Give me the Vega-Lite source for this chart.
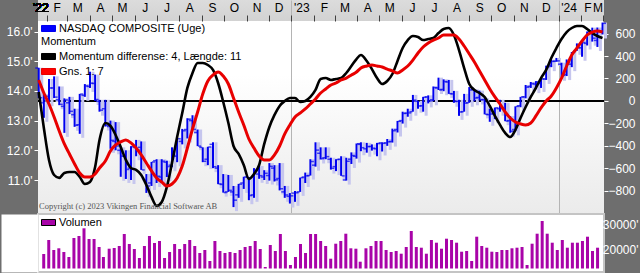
{
"$schema": "https://vega.github.io/schema/vega-lite/v6.json",
"background": "#6e6e6e",
"padding": 0,
"spacing": 0,
"config": {
 "font": "Liberation Sans",
 "view": {"stroke": null},
 "axis": {"domain": false, "grid": false, "labelFont": "Liberation Sans", "labelFontSize": 12, "title": null, "labelOverlap": false, "tickCount": 200},
 "legend": {"labelFont": "Liberation Sans", "labelFontSize": 11, "labelColor": "#000", "titleFont": "Liberation Sans", "titleFontSize": 11, "titleFontWeight": "normal", "titleColor": "#000", "padding": 0, "rowPadding": 2, "labelOffset": 3, "labelLimit": 400, "titlePadding": 2, "symbolType": "M-1,-0.43H1V0.43H-1Z", "symbolSize": 196}
},
"resolve": {"scale": {"x": "independent", "y": "independent", "color": "independent", "fill": "independent", "stroke": "independent"}, "legend": {"color": "independent", "fill": "independent", "stroke": "independent"}},
"data": {"values": [
{"d":"2022-01-21","o":14770,"h":14780,"l":13760,"c":13769,"v":18000,"m":80,"a":187},
{"d":"2022-01-28","o":13600,"h":13890,"l":13094,"c":13770,"v":23600,"m":-240,"a":71},
{"d":"2022-02-04","o":13820,"h":14400,"l":13620,"c":14098,"v":19600,"m":-524,"a":-27},
{"d":"2022-02-11","o":14100,"h":14490,"l":13760,"c":13791,"v":20280,"m":-658,"a":-142},
{"d":"2022-02-18","o":13700,"h":14150,"l":13520,"c":13548,"v":18800,"m":-684,"a":-267},
{"d":"2022-02-25","o":13480,"h":13750,"l":12587,"c":13694,"v":16800,"m":-640,"a":-382},
{"d":"2022-03-04","o":13600,"h":13800,"l":13220,"c":13313,"v":24400,"m":-631,"a":-471},
{"d":"2022-03-11","o":13200,"h":13400,"l":12790,"c":12843,"v":25200,"m":-631,"a":-560},
{"d":"2022-03-18","o":12860,"h":13900,"l":12555,"c":13894,"v":28280,"m":-676,"a":-640},
{"d":"2022-03-25","o":13850,"h":14230,"l":13800,"c":14169,"v":24000,"m":-738,"a":-676},
{"d":"2022-04-01","o":14150,"h":14646,"l":14100,"c":14261,"v":24000,"m":-720,"a":-676},
{"d":"2022-04-08","o":14250,"h":14550,"l":13660,"c":13711,"v":20800,"m":-587,"a":-649},
{"d":"2022-04-14","o":13650,"h":13700,"l":13300,"c":13351,"v":16800,"m":-347,"a":-596},
{"d":"2022-04-22","o":13400,"h":13700,"l":12800,"c":12839,"v":20120,"m":-196,"a":-533},
{"d":"2022-04-29","o":12800,"h":13000,"l":12050,"c":12335,"v":20400,"m":-222,"a":-444},
{"d":"2022-05-06","o":12300,"h":12950,"l":12000,"c":12145,"v":21200,"m":-302,"a":-391},
{"d":"2022-05-13","o":12000,"h":12100,"l":11108,"c":11805,"v":26000,"m":-409,"a":-364},
{"d":"2022-05-20","o":11800,"h":12000,"l":11035,"c":11354,"v":22000,"m":-524,"a":-347},
{"d":"2022-05-27","o":11400,"h":12140,"l":11000,"c":12131,"v":20000,"m":-596,"a":-373},
{"d":"2022-06-03","o":12100,"h":12350,"l":11800,"c":12013,"v":16400,"m":-613,"a":-418},
{"d":"2022-06-10","o":12100,"h":12300,"l":11340,"c":11340,"v":21200,"m":-658,"a":-480},
{"d":"2022-06-17","o":11000,"h":11200,"l":10565,"c":10798,"v":25200,"m":-747,"a":-551},
{"d":"2022-06-24","o":10900,"h":11610,"l":10800,"c":11608,"v":22400,"m":-853,"a":-622},
{"d":"2022-07-01","o":11650,"h":11700,"l":10900,"c":11128,"v":23200,"m":-933,"a":-684},
{"d":"2022-07-08","o":11100,"h":11700,"l":10900,"c":11635,"v":16400,"m":-898,"a":-720},
{"d":"2022-07-15","o":11600,"h":11650,"l":11100,"c":11452,"v":18800,"m":-764,"a":-756},
{"d":"2022-07-22","o":11500,"h":12100,"l":11430,"c":11834,"v":22000,"m":-551,"a":-738},
{"d":"2022-07-29","o":11800,"h":12400,"l":11600,"c":12391,"v":20000,"m":-320,"a":-684},
{"d":"2022-08-05","o":12300,"h":12720,"l":12200,"c":12657,"v":22000,"m":-107,"a":-578},
{"d":"2022-08-12","o":12700,"h":13080,"l":12400,"c":13047,"v":23600,"m":116,"a":-418},
{"d":"2022-08-19","o":13000,"h":13181,"l":12700,"c":12705,"v":21200,"m":249,"a":-249},
{"d":"2022-08-26","o":12600,"h":12700,"l":12140,"c":12141,"v":18400,"m":338,"a":-98},
{"d":"2022-09-02","o":12100,"h":12100,"l":11600,"c":11631,"v":19600,"m":338,"a":62},
{"d":"2022-09-09","o":11700,"h":12120,"l":11500,"c":12112,"v":15200,"m":320,"a":178},
{"d":"2022-09-16","o":12200,"h":12270,"l":11400,"c":11448,"v":23200,"m":276,"a":231},
{"d":"2022-09-23","o":11400,"h":11500,"l":10860,"c":10868,"v":19200,"m":160,"a":258},
{"d":"2022-09-30","o":10850,"h":11200,"l":10575,"c":10576,"v":18400,"m":-9,"a":222},
{"d":"2022-10-07","o":10600,"h":11170,"l":10600,"c":10652,"v":18800,"m":-196,"a":151},
{"d":"2022-10-14","o":10600,"h":10800,"l":10088,"c":10321,"v":18400,"m":-400,"a":27},
{"d":"2022-10-21","o":10500,"h":10870,"l":10400,"c":10860,"v":19600,"m":-471,"a":-98},
{"d":"2022-10-28","o":10900,"h":11110,"l":10700,"c":11102,"v":20800,"m":-569,"a":-213},
{"d":"2022-11-04","o":11100,"h":11100,"l":10320,"c":10475,"v":21200,"m":-693,"a":-338},
{"d":"2022-11-11","o":10500,"h":11400,"l":10400,"c":11323,"v":23200,"m":-649,"a":-418},
{"d":"2022-11-18","o":11200,"h":11470,"l":11040,"c":11146,"v":20000,"m":-569,"a":-489},
{"d":"2022-11-25","o":11100,"h":11330,"l":11000,"c":11226,"v":12800,"m":-382,"a":-524},
{"d":"2022-12-02","o":11150,"h":11570,"l":10980,"c":11461,"v":21600,"m":-231,"a":-524},
{"d":"2022-12-09","o":11400,"h":11500,"l":10950,"c":11005,"v":19200,"m":-124,"a":-480},
{"d":"2022-12-16","o":11050,"h":11570,"l":10650,"c":10705,"v":26000,"m":-44,"a":-400},
{"d":"2022-12-23","o":10600,"h":10800,"l":10400,"c":10497,"v":19200,"m":0,"a":-293},
{"d":"2022-12-30","o":10450,"h":10560,"l":10207,"c":10466,"v":13600,"m":27,"a":-213},
{"d":"2023-01-06","o":10560,"h":10630,"l":10265,"c":10569,"v":16800,"m":27,"a":-142},
{"d":"2023-01-13","o":10600,"h":11080,"l":10600,"c":11079,"v":22000,"m":-9,"a":-107},
{"d":"2023-01-20","o":11100,"h":11250,"l":10900,"c":11140,"v":18400,"m":0,"a":-71},
{"d":"2023-01-27","o":11150,"h":11700,"l":11150,"c":11622,"v":26000,"m":36,"a":-27},
{"d":"2023-02-03","o":11500,"h":12270,"l":11450,"c":12007,"v":26000,"m":98,"a":18},
{"d":"2023-02-10","o":11900,"h":12100,"l":11690,"c":11718,"v":23200,"m":196,"a":71},
{"d":"2023-02-17","o":11750,"h":12100,"l":11700,"c":11787,"v":21200,"m":204,"a":107},
{"d":"2023-02-24","o":11700,"h":11750,"l":11350,"c":11395,"v":16120,"m":187,"a":142},
{"d":"2023-03-03","o":11450,"h":11700,"l":11300,"c":11689,"v":22120,"m":196,"a":160},
{"d":"2023-03-10","o":11700,"h":11800,"l":11140,"c":11139,"v":23200,"m":204,"a":187},
{"d":"2023-03-17","o":11000,"h":11750,"l":10980,"c":11631,"v":26120,"m":249,"a":204},
{"d":"2023-03-24","o":11700,"h":11930,"l":11540,"c":11824,"v":20280,"m":311,"a":231},
{"d":"2023-03-31","o":11800,"h":12230,"l":11720,"c":12222,"v":20120,"m":373,"a":258},
{"d":"2023-04-06","o":12200,"h":12270,"l":11970,"c":12088,"v":14920,"m":409,"a":293},
{"d":"2023-04-14","o":12050,"h":12250,"l":11920,"c":12124,"v":20280,"m":356,"a":311},
{"d":"2023-04-21","o":12130,"h":12200,"l":11990,"c":12073,"v":21200,"m":284,"a":320},
{"d":"2023-04-28","o":12050,"h":12250,"l":11800,"c":12227,"v":23200,"m":204,"a":311},
{"d":"2023-05-05","o":12250,"h":12270,"l":11960,"c":12235,"v":23200,"m":151,"a":302},
{"d":"2023-05-12","o":12250,"h":12380,"l":12150,"c":12285,"v":19600,"m":178,"a":284},
{"d":"2023-05-19","o":12300,"h":12730,"l":12260,"c":12658,"v":18800,"m":240,"a":267},
{"d":"2023-05-26","o":12700,"h":12990,"l":12600,"c":12976,"v":19200,"m":356,"a":249},
{"d":"2023-06-02","o":13000,"h":13300,"l":12900,"c":13241,"v":18120,"m":471,"a":276},
{"d":"2023-06-09","o":13250,"h":13400,"l":13130,"c":13259,"v":20800,"m":542,"a":311},
{"d":"2023-06-16","o":13300,"h":13865,"l":13300,"c":13689,"v":27200,"m":578,"a":364},
{"d":"2023-06-23","o":13650,"h":13670,"l":13400,"c":13492,"v":20800,"m":569,"a":427},
{"d":"2023-06-30","o":13500,"h":13800,"l":13300,"c":13788,"v":20520,"m":542,"a":480},
{"d":"2023-07-07","o":13800,"h":13850,"l":13580,"c":13661,"v":18120,"m":551,"a":516},
{"d":"2023-07-14","o":13700,"h":14150,"l":13650,"c":14113,"v":23600,"m":560,"a":542},
{"d":"2023-07-21","o":14100,"h":14446,"l":14030,"c":14032,"v":22520,"m":604,"a":560},
{"d":"2023-07-28","o":14050,"h":14390,"l":13990,"c":14316,"v":20120,"m":640,"a":587},
{"d":"2023-08-04","o":14300,"h":14370,"l":13900,"c":13909,"v":24120,"m":649,"a":587},
{"d":"2023-08-11","o":13900,"h":14000,"l":13600,"c":13644,"v":23600,"m":587,"a":587},
{"d":"2023-08-18","o":13650,"h":13700,"l":13160,"c":13290,"v":22520,"m":453,"a":551},
{"d":"2023-08-25","o":13300,"h":13900,"l":13300,"c":13590,"v":18920,"m":293,"a":489},
{"d":"2023-09-01","o":13600,"h":14130,"l":13600,"c":14031,"v":19200,"m":151,"a":418},
{"d":"2023-09-08","o":14050,"h":14050,"l":13650,"c":13761,"v":15200,"m":98,"a":347},
{"d":"2023-09-15","o":13780,"h":14010,"l":13680,"c":13708,"v":24920,"m":71,"a":267},
{"d":"2023-09-22","o":13700,"h":13750,"l":13210,"c":13212,"v":21200,"m":36,"a":187},
{"d":"2023-09-29","o":13200,"h":13400,"l":12960,"c":13219,"v":20520,"m":-44,"a":107},
{"d":"2023-10-06","o":13250,"h":13440,"l":13050,"c":13431,"v":18920,"m":-133,"a":36},
{"d":"2023-10-13","o":13400,"h":13700,"l":13300,"c":13407,"v":18800,"m":-213,"a":-27},
{"d":"2023-10-20","o":13400,"h":13600,"l":12980,"c":12984,"v":19600,"m":-284,"a":-98},
{"d":"2023-10-27","o":13000,"h":13150,"l":12590,"c":12643,"v":19600,"m":-320,"a":-151},
{"d":"2023-11-03","o":12700,"h":13480,"l":12640,"c":13478,"v":20280,"m":-258,"a":-187},
{"d":"2023-11-10","o":13500,"h":13800,"l":13450,"c":13798,"v":20520,"m":-151,"a":-204},
{"d":"2023-11-17","o":13800,"h":14200,"l":13750,"c":14125,"v":20800,"m":-53,"a":-213},
{"d":"2023-11-24","o":14150,"h":14300,"l":14100,"c":14250,"v":13600,"m":36,"a":-196},
{"d":"2023-12-01","o":14230,"h":14330,"l":14060,"c":14305,"v":22120,"m":116,"a":-133},
{"d":"2023-12-08","o":14250,"h":14420,"l":14100,"c":14404,"v":26120,"m":204,"a":-62},
{"d":"2023-12-15","o":14400,"h":14850,"l":14370,"c":14814,"v":31200,"m":276,"a":0},
{"d":"2023-12-22","o":14850,"h":15050,"l":14800,"c":14993,"v":26120,"m":382,"a":44},
{"d":"2023-12-29","o":15000,"h":15110,"l":14980,"c":15011,"v":22520,"m":471,"a":116},
{"d":"2024-01-05","o":14900,"h":14950,"l":14476,"c":14524,"v":19600,"m":551,"a":204},
{"d":"2024-01-12","o":14550,"h":15060,"l":14500,"c":14973,"v":23600,"m":613,"a":311},
{"d":"2024-01-19","o":14900,"h":15310,"l":14800,"c":15311,"v":20520,"m":649,"a":409},
{"d":"2024-01-26","o":15350,"h":15600,"l":15350,"c":15455,"v":22520,"m":667,"a":471},
{"d":"2024-02-02","o":15450,"h":15700,"l":15150,"c":15629,"v":22520,"m":667,"a":533},
{"d":"2024-02-09","o":15600,"h":16000,"l":15530,"c":15991,"v":23200,"m":640,"a":587},
{"d":"2024-02-16","o":16000,"h":16130,"l":15660,"c":15776,"v":24920,"m":604,"a":613},
{"d":"2024-02-23","o":15700,"h":16134,"l":15480,"c":15997,"v":19200,"m":578,"a":622},
{"d":"2024-03-01","o":16000,"h":16302,"l":15900,"c":16275,"v":20520,"m":560,"a":613}
]},
"vconcat": [
 {
  "width": 566, "height": 213,
  "view": {"stroke": null, "fill": {"gradient": "linear", "x1": 0, "y1": 0, "x2": 0, "y2": 1, "stops": [{"offset": 0, "color": "#dcdcdc"}, {"offset": 0.098, "color": "#d2d2d2"}, {"offset": 0.0995, "color": "#ffffff"}, {"offset": 0.35, "color": "#ffffff"}, {"offset": 1, "color": "#ebebeb"}]}},
  "title": {"text": "Copyright (c) 2023 Vikingen Financial Software AB", "orient": "bottom", "anchor": "start", "frame": "group", "offset": -11, "font": "Liberation Serif", "fontSize": 8.5, "fontWeight": "normal", "color": "#555555", "dx": 1},
  "resolve": {"scale": {"y": "independent"}},
  "layer": [
   {
    "mark": {"type": "rule", "color": "#000000", "strokeWidth": 1},
    "encoding": {"y": {"datum": 0, "type": "quantitative", "scale": {"domain": [-996, 898], "nice": false, "zero": false}, "axis": null}}
   },
   {
    "layer": [
     {
      "mark": {"type": "rule", "color": "#c6c6ee", "strokeWidth": 3, "xOffset": 3, "yOffset": 4},
      "encoding": {
       "x": {"field": "d", "type": "temporal", "scale": {"type": "utc", "domain": [{"year": 2022, "month": 1, "date": 20, "utc": true}, {"year": 2024, "month": 3, "date": 3, "utc": true}]},
        "axis": {"orient": "top", "offset": -21, "minExtent": 0, "maxExtent": 0, "labelOverlap": false, "tickCount": 200,
         "values": [{"year":2022,"month":2,"date":1,"utc":true},{"year":2022,"month":3,"date":1,"utc":true},{"year":2022,"month":4,"date":1,"utc":true},{"year":2022,"month":5,"date":1,"utc":true},{"year":2022,"month":6,"date":1,"utc":true},{"year":2022,"month":7,"date":1,"utc":true},{"year":2022,"month":8,"date":1,"utc":true},{"year":2022,"month":9,"date":1,"utc":true},{"year":2022,"month":10,"date":1,"utc":true},{"year":2022,"month":11,"date":1,"utc":true},{"year":2022,"month":12,"date":1,"utc":true},{"year":2023,"month":1,"date":1,"utc":true},{"year":2023,"month":2,"date":1,"utc":true},{"year":2023,"month":3,"date":1,"utc":true},{"year":2023,"month":4,"date":1,"utc":true},{"year":2023,"month":5,"date":1,"utc":true},{"year":2023,"month":6,"date":1,"utc":true},{"year":2023,"month":7,"date":1,"utc":true},{"year":2023,"month":8,"date":1,"utc":true},{"year":2023,"month":9,"date":1,"utc":true},{"year":2023,"month":10,"date":1,"utc":true},{"year":2023,"month":11,"date":1,"utc":true},{"year":2023,"month":12,"date":1,"utc":true},{"year":2024,"month":1,"date":1,"utc":true},{"year":2024,"month":2,"date":1,"utc":true},{"year":2024,"month":3,"date":1,"utc":true}],
         "labelExpr": "utcmonth(datum.value)==0 ? \"'\" + utcFormat(datum.value, '%y') : ['J','F','M','A','M','J','J','A','S','O','N','D'][utcmonth(datum.value)]",
         "labelColor": "#000000", "labelFontSize": 12, "labelPadding": 1, "labelFlush": false,
         "labelOffset": {"condition": [{"test": "datum.value > utc(2024,1,20)", "value": 0}, {"test": "datum.value > utc(2024,0,20)", "value": 6}], "value": 10},
         "labelAlign": {"condition": {"test": "datum.value > utc(2024,1,20)", "value": "right"}, "value": "center"},
         "ticks": true, "tickSize": 6, "tickColor": "#404040", "tickWidth": 1,
         "grid": true, "gridColor": "#b4b4b4", "gridWidth": 1,
         "gridOpacity": {"condition": {"test": "utcmonth(datum.value)==0", "value": 1}, "value": 0}
        }},
       "y": {"field": "l", "type": "quantitative", "scale": {"domain": [9889, 17061], "nice": false, "zero": false},
        "axis": {"orient": "left", "values": [11000, 12000, 13000, 14000, 15000, 16000], "tickCount": 200, "labelExpr": "format(datum.value/1000, '.1f') + \"'\"", "labelColor": "#ffffff", "tickColor": "#ffffff", "tickSize": 4, "labelPadding": 2, "minExtent": 37, "maxExtent": 37, "labelFontSize": 12, "labelOverlap": false}},
       "y2": {"field": "h"}
      }
     },
     {
      "mark": {"type": "rule", "strokeWidth": 2},
      "encoding": {
       "x": {"field": "d", "type": "temporal", "scale": {"type": "utc", "domain": [{"year": 2022, "month": 1, "date": 20, "utc": true}, {"year": 2024, "month": 3, "date": 3, "utc": true}]}},
       "y": {"field": "l", "type": "quantitative"},
       "y2": {"field": "h"},
       "color": {"datum": "NASDAQ COMPOSITE (Uge)", "scale": {"range": ["#0000f0"]},
        "legend": {"orient": "none", "legendX": 3, "legendY": 21, "title": null,
         "encode": {"symbols": {"update": {"fill": {"value": "#0000ff"}, "stroke": {"value": "#000000"}, "strokeWidth": {"value": 1}}}}}}
      }
     },
     {
      "mark": {"type": "tick", "orient": "horizontal", "color": "#0000f0", "size": 3, "thickness": 1.5, "xOffset": -2},
      "encoding": {
       "x": {"field": "d", "type": "temporal", "scale": {"type": "utc", "domain": [{"year": 2022, "month": 1, "date": 20, "utc": true}, {"year": 2024, "month": 3, "date": 3, "utc": true}]}},
       "y": {"field": "o", "type": "quantitative"}
      }
     },
     {
      "mark": {"type": "tick", "orient": "horizontal", "color": "#0000f0", "size": 3, "thickness": 1.5, "xOffset": 2},
      "encoding": {
       "x": {"field": "d", "type": "temporal", "scale": {"type": "utc", "domain": [{"year": 2022, "month": 1, "date": 20, "utc": true}, {"year": 2024, "month": 3, "date": 3, "utc": true}]}},
       "y": {"field": "c", "type": "quantitative"}
      }
     }
    ]
   },
   {
    "layer": [
     {
      "mark": {"type": "line", "strokeWidth": 2.6, "interpolate": "monotone"},
      "encoding": {
       "x": {"field": "d", "type": "temporal", "scale": {"type": "utc", "domain": [{"year": 2022, "month": 1, "date": 20, "utc": true}, {"year": 2024, "month": 3, "date": 3, "utc": true}]}},
       "y": {"field": "m", "type": "quantitative", "scale": {"domain": [-996, 898], "nice": false, "zero": false},
        "axis": {"orient": "right", "values": [-800, -600, -400, -200, 0, 200, 400, 600], "tickCount": 200, "labelColor": "#ffffff", "tickColor": "#ffffff", "tickSize": 4, "labelAlign": "right", "labelPadding": 27, "minExtent": 37, "maxExtent": 37, "labelFontSize": 12, "labelOverlap": false}},
       "stroke": {"datum": "Momentum differense: 4, Længde: 11", "scale": {"domain": ["Momentum differense: 4, Længde: 11", "Gns. 1: 7"], "range": ["#000000", "#e80000"]},
        "legend": {"orient": "none", "legendX": 3, "legendY": 36, "title": "Momentum",
         "encode": {"symbols": {"update": {"fill": [{"test": "datum.value === 'Gns. 1: 7'", "value": "#ff0000"}, {"value": "#000000"}], "stroke": {"value": "#000000"}, "strokeWidth": {"value": 1}}}}}}
      }
     },
     {
      "mark": {"type": "line", "strokeWidth": 3, "interpolate": "monotone"},
      "encoding": {
       "x": {"field": "d", "type": "temporal", "scale": {"type": "utc", "domain": [{"year": 2022, "month": 1, "date": 20, "utc": true}, {"year": 2024, "month": 3, "date": 3, "utc": true}]}},
       "y": {"field": "a", "type": "quantitative"},
       "stroke": {"datum": "Gns. 1: 7"}
      }
     },
     {
      "mark": {"type": "text", "text": "'22", "align": "left", "baseline": "middle", "dx": -5, "fontSize": 12, "font": "Liberation Sans", "color": "#000000"},
      "encoding": {
       "x": {"datum": {"year": 2022, "month": 1, "date": 20, "utc": true}, "type": "temporal", "scale": {"type": "utc", "domain": [{"year": 2022, "month": 1, "date": 20, "utc": true}, {"year": 2024, "month": 3, "date": 3, "utc": true}]}},
       "y": {"datum": 827, "type": "quantitative"}
      }
     }
    ]
   }
  ]
 },
 {
  "width": 566, "height": 58,
  "view": {"stroke": "#c4c4c4", "strokeWidth": 2, "fill": "#ffffff"},
  "resolve": {"scale": {"y": "independent"}},
  "layer": [
   {
    "mark": {"type": "rule", "opacity": 0},
    "encoding": {"y": {"datum": 0, "type": "quantitative", "scale": {"domain": [0, 1]},
     "axis": {"orient": "left", "domain": true, "domainColor": "#ffffff", "domainWidth": 37, "offset": 18.5, "labels": false, "ticks": false, "grid": false, "minExtent": 18.5, "maxExtent": 18.5}}}
   },
   {
    "mark": {"type": "bar", "width": 3},
    "encoding": {
     "x": {"field": "d", "type": "temporal", "scale": {"type": "utc", "domain": [{"year": 2022, "month": 1, "date": 20, "utc": true}, {"year": 2024, "month": 3, "date": 3, "utc": true}]}, "axis": null},
     "y": {"field": "v", "type": "quantitative", "scale": {"domain": [10800, 34000], "nice": false, "zero": false},
      "axis": {"orient": "right", "values": [20000, 30000], "labelExpr": "datum.value + \"'\"", "ticks": false, "tickSize": 0, "labelAlign": "right", "labelPadding": 34, "minExtent": 37, "maxExtent": 37, "labelColor": "#ffffff", "labelFontSize": 12, "labelOverlap": false}},
     "y2": {"datum": 12200},
     "fill": {"datum": "Volumen", "scale": {"range": ["#a804a8"]},
      "legend": {"orient": "none", "legendX": 3, "legendY": 1, "title": null,
       "encode": {"symbols": {"update": {"fill": {"value": "#ff00ff"}, "stroke": {"value": "#000000"}, "strokeWidth": {"value": 1}}}}}}
    }
   }
  ]
 }
]
}
